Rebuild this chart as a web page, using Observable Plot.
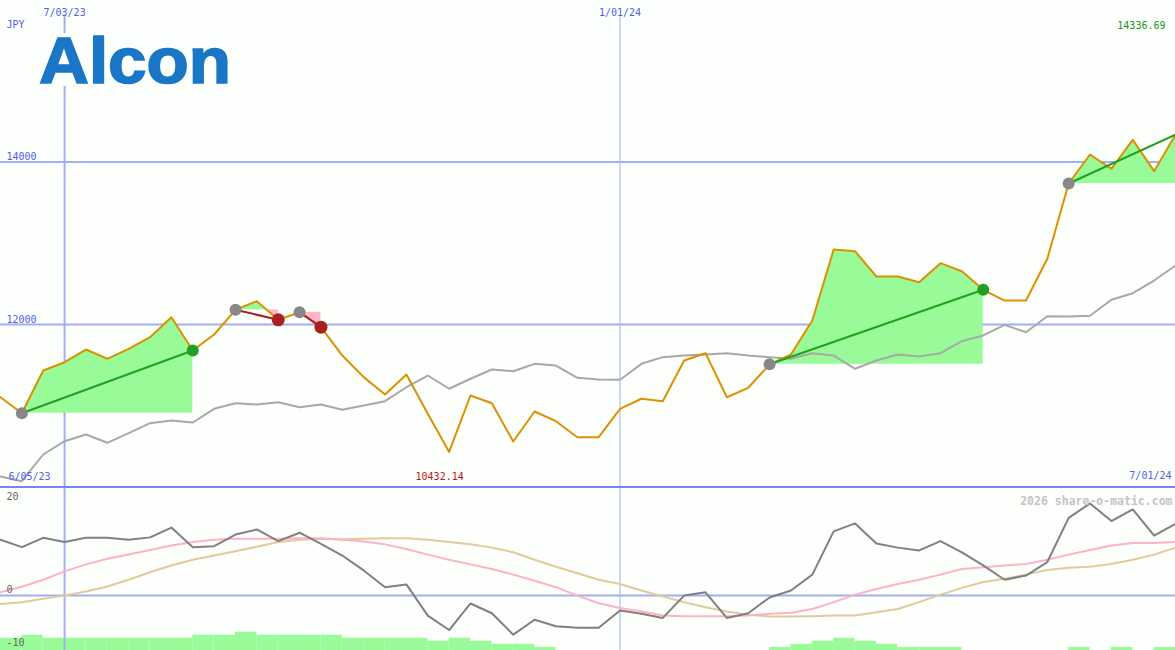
<!DOCTYPE html>
<html><head><meta charset="utf-8">
<script src="https://cdn.jsdelivr.net/npm/d3@7"></script>
<script src="https://cdn.jsdelivr.net/npm/@observablehq/plot@0.6"></script>
<style>
html,body{margin:0;padding:0;background:#fcfffc;}
#wrap{position:relative;width:1175px;height:650px;overflow:hidden;background:#fcfffc;}
#top{position:absolute;left:0;top:0;width:1175px;height:488px;}
#bot{position:absolute;left:0;top:488px;width:1175px;height:162px;}
#top svg,#bot svg{position:absolute;left:0;top:0;display:block;}
#logo{position:absolute;left:0;top:33px;overflow:visible;}
</style></head><body>
<div id="wrap">
  <div id="top"></div>
  <div id="bot"></div>
  <svg id="logo" width="250" height="72"><rect x="30" y="0" width="212" height="53" fill="#fcfffc"></rect><text id="logoText" x="39" y="50" font-family="Liberation Sans, Arial, sans-serif" font-weight="bold" font-size="64" fill="#1a76c6" stroke="#1a76c6" stroke-width="1.6" textLength="192" lengthAdjust="spacingAndGlyphs"></text></svg>
</div>
<script>
// ---- data ----
const company = "Alcon";
const currency = "JPY";
const firstLabel = "6/05/23";
const lastLabel = "7/01/24";
const watermark = "2026 share-o-matic.com";
const startDate = Date.UTC(2023, 5, 12);
const dates = d3.range(56).map(i => new Date(startDate + i * 7 * 864e5));

const price = [11105, 10908, 11434, 11536, 11692, 11578, 11700, 11844, 12090, 11680,
  11877, 12181, 12287, 12058, 12151, 11967, 11618, 11352, 11138, 11385,
  10901, 10432.14, 11126, 11031, 10560, 10929, 10810, 10613, 10613, 10962,
  11086, 11056, 11557, 11647, 11105, 11221, 11510, 11631, 12049, 12923,
  12902, 12591, 12591, 12521, 12755, 12656, 12427, 12295, 12295, 12809,
  13735, 14092, 13916, 14273, 13887, 14336.69];

const average = [10129, 10071, 10400, 10564, 10646, 10544, 10662, 10785, 10818, 10794,
  10962, 11031, 11015, 11044, 10982, 11015, 10950, 11003, 11056, 11228,
  11372, 11209, 11332, 11446, 11425, 11516, 11495, 11344, 11323, 11320,
  11516, 11598, 11618, 11631, 11647, 11618, 11598, 11578, 11647, 11618,
  11455, 11557, 11631, 11606, 11647, 11795, 11865, 11996, 11905, 12102,
  12098, 12107, 12304, 12385, 12541, 12726];

const momentum = [12.0, 10.4, 12.4, 11.5, 12.4, 12.4, 12.0, 12.5, 14.6, 10.4,
  10.6, 13.1, 14.2, 11.7, 13.5, 11.1, 8.6, 5.4, 1.8, 2.4,
  -4.3, -7.4, -1.7, -3.8, -8.4, -5.2, -6.6, -6.9, -6.9, -3.2,
  -3.9, -4.8, 0.0, 0.7, -4.8, -3.8, -0.4, 1.1, 4.5, 13.8,
  15.5, 11.2, 10.3, 9.7, 11.7, 9.3, 6.5, 3.4, 4.3, 7.2,
  16.7, 19.8, 16.0, 18.5, 12.9, 15.4];

const signalLine = [0.7, 1.9, 3.4, 5.2, 6.7, 7.9, 8.8, 9.8, 10.75, 11.5,
  12.0, 12.2, 12.2, 12.2, 12.3, 12.3, 12.0, 11.6, 11.0, 10.0,
  8.8, 7.7, 6.7, 5.7, 4.5, 3.2, 1.8, 0.0, -1.65, -2.65,
  -3.4, -4.3, -4.45, -4.45, -4.45, -4.3, -3.9, -3.7, -2.9, -1.4,
  0.2, 1.4, 2.5, 3.4, 4.5, 5.7, 6.1, 6.45, 6.8, 7.7,
  8.8, 9.8, 10.75, 11.3, 11.3, 11.5];

const slowLine = [-1.8, -1.44, -0.7, 0.0, 0.86, 1.94, 3.4, 5.0, 6.45, 7.7,
  8.6, 9.5, 10.5, 11.5, 12.0, 12.2, 12.1, 12.2, 12.3, 12.3,
  12.0, 11.5, 11.0, 10.3, 9.3, 7.7, 6.2, 4.8, 3.4, 2.5,
  1.1, -0.2, -1.44, -2.5, -3.4, -4.1, -4.5, -4.5, -4.45, -4.3,
  -4.3, -3.6, -2.9, -1.4, 0.2, 1.65, 2.9, 3.6, 4.5, 5.5,
  6.0, 6.2, 6.8, 7.7, 8.8, 10.3];

const volumeLevel = [4, 5, 4, 4, 4, 4, 4, 4, 4, 5,
  5, 6, 5, 5, 5, 5, 4, 4, 4, 4,
  3, 4, 3, 2, 2, 1, 0, 0, 0, 0,
  0, 0, 0, 0, 0, 0, 1, 2, 3, 4,
  3, 2, 1, 1, 1, 0, 0, 0, 0, 0,
  1, 0, 1, 0, 1, 0];

const priceTicks = [12000, 14000];
const oscTicks = [20, 0, -10];
const dateTickDates = [Date.UTC(2023, 6, 3), Date.UTC(2024, 0, 1)];
const dateTickLabels = ["7/03/23", "1/01/24"];
const dateTickWidths = [2, 1];

const sigStart = [1, 11, 14, 36, 50];
const sigEnd = [9, 13, 15, 46, 55];
const sigUp = [true, false, false, true, true];
const sigClosed = [true, true, true, true, false];

// ---- colours ----
const C = {
  grid: "#a3aef4", divider: "#7886ee", label: "#5060e8",
  price: "#dd9000", avg: "#a8a8a8", fillUp: "#98fb98", fillDown: "#ffb6c8",
  up: "#22a022", down: "#a82020", mark: "#888888",
  mom: "#808080", sig: "#ffb2c6", slow: "#e2ca9a", tick: "#666666", wm: "#c4c4c4"
};

// ---- derived tables ----
const rows = dates.map((d, i) => ({date: d, price: price[i], avg: average[i], mom: momentum[i], sig: signalLine[i], slow: slowLine[i], vol: volumeLevel[i], next: new Date(+d + 7 * 864e5)}));
const dateTicks = dateTickDates.map((t, i) => ({date: new Date(t), label: dateTickLabels[i], w: dateTickWidths[i]}));

const fills = [];
sigStart.forEach((s, k) => {
  const e = sigEnd[k], b = price[s];
  for (let i = s; i <= e; i++) {
    if (i > s) {
      const p0 = price[i - 1], p1 = price[i];
      if ((p0 - b) * (p1 - b) < 0) {
        const t = (b - p0) / (p1 - p0);
        fills.push({k, b, date: new Date(+dates[i - 1] + t * (dates[i] - dates[i - 1])), v: b});
      }
    }
    fills.push({k, b, date: dates[i], v: price[i]});
  }
});
const trend = sigStart.flatMap((s, k) => [
  {k, up: sigUp[k], date: dates[s], v: price[s]},
  {k, up: sigUp[k], date: dates[sigEnd[k]], v: price[sigEnd[k]]}
]);
const startMarks = sigStart.map(s => ({date: dates[s], v: price[s]}));
const endMarks = sigEnd.map((e, k) => ({date: dates[e], v: price[e], up: sigUp[k], closed: sigClosed[k]})).filter(d => d.closed);

const minIdx = d3.minIndex(price), maxIdx = d3.maxIndex(price);

const xOpt = {type: "utc", domain: [dates[0], dates[dates.length - 1]], range: [0, 1175], axis: null};
const font = {fontFamily: "DejaVu Sans Mono, monospace", fontSize: 10};
const oscMin = -11.8;

const pricePlot = Plot.plot({
  width: 1175, height: 488, margin: 0,
  style: {background: "transparent", fontFamily: "DejaVu Sans Mono, monospace", fontSize: "10px"},
  x: xOpt,
  y: {domain: [10000, 16000], range: [486.5, -1], axis: null},
  marks: [
    Plot.ruleY(priceTicks, {stroke: C.grid, strokeWidth: 2}),
    Plot.ruleX(dateTicks.filter(d => d.w === 2), {x: "date", stroke: C.grid, strokeWidth: 2, insetTop: 16}),
    Plot.ruleX(dateTicks.filter(d => d.w === 1), {x: "date", stroke: C.grid, strokeWidth: 1, insetTop: 16}),
    Plot.areaY(fills, {x: "date", y1: "b", y2: d => Math.max(d.v, d.b), z: "k", fill: C.fillUp}),
    Plot.areaY(fills, {x: "date", y1: "b", y2: d => Math.min(d.v, d.b), z: "k", fill: C.fillDown}),
    Plot.line(rows, {x: "date", y: "avg", stroke: C.avg, strokeWidth: 2}),
    Plot.line(rows, {x: "date", y: "price", stroke: C.price, strokeWidth: 2}),
    Plot.line(trend.filter(d => d.up), {x: "date", y: "v", z: "k", stroke: C.up, strokeWidth: 2}),
    Plot.line(trend.filter(d => !d.up), {x: "date", y: "v", z: "k", stroke: C.down, strokeWidth: 2}),
    Plot.dot(startMarks, {x: "date", y: "v", r: 6, fill: C.mark}),
    Plot.dot(endMarks.filter(d => d.up), {x: "date", y: "v", r: 6, fill: C.up}),
    Plot.dot(endMarks.filter(d => !d.up), {x: "date", y: "v", r: 6.5, fill: C.down}),
    Plot.ruleY([10000], {stroke: C.divider, strokeWidth: 2}),
    Plot.text(dateTicks, {x: "date", text: "label", frameAnchor: "top", dy: 8, fill: C.label, ...font}),
    Plot.text([currency], {text: d => d, frameAnchor: "top-left", textAnchor: "start", dx: 6, dy: 20, fill: C.label, ...font}),
    Plot.text(priceTicks, {y: d => d, text: d => String(d), frameAnchor: "left", textAnchor: "start", dx: 6, dy: -5, fill: C.label, ...font}),
    Plot.text([firstLabel], {text: d => d, frameAnchor: "bottom-left", textAnchor: "start", dx: 8, dy: -8.5, fill: C.label, ...font}),
    Plot.text([lastLabel], {text: d => d, frameAnchor: "bottom-right", textAnchor: "end", dx: -4, dy: -10, fill: C.label, ...font}),
    Plot.text([{date: dates[minIdx], v: price[minIdx]}], {x: "date", text: d => d.v.toFixed(2), frameAnchor: "bottom", dx: -9.5, dy: -9, fill: "#b21a1a", ...font}),
    Plot.text([price[maxIdx]], {text: d => d.toFixed(2), frameAnchor: "top-right", textAnchor: "end", dx: -10, dy: 21, fill: "#1a961a", ...font})
  ]
});
document.getElementById("top").appendChild(pricePlot);

const barPlot = Plot.plot({
  width: 1175, height: 162, margin: 0,
  style: {background: "transparent"},
  x: xOpt,
  y: {domain: [0, 53], range: [162, 0], axis: null},
  marks: [
    Plot.rectY(rows.filter(d => d.vol > 0), {x1: "date", x2: "next", y: "vol", fill: C.fillUp})
  ]
});
document.getElementById("bot").appendChild(barPlot);

const oscPlot = Plot.plot({
  width: 1175, height: 162, margin: 0,
  style: {background: "transparent", fontFamily: "DejaVu Sans Mono, monospace", fontSize: "10px"},
  x: xOpt,
  y: {domain: [oscMin, 23], range: [162, 0], axis: null},
  marks: [
    Plot.ruleY([0], {stroke: C.grid, strokeWidth: 2}),
    Plot.ruleX(dateTicks.filter(d => d.w === 2), {x: "date", stroke: C.grid, strokeWidth: 2}),
    Plot.ruleX(dateTicks.filter(d => d.w === 1), {x: "date", stroke: C.grid, strokeWidth: 1}),
    Plot.line(rows, {x: "date", y: "slow", stroke: C.slow, strokeWidth: 2}),
    Plot.line(rows, {x: "date", y: "sig", stroke: C.sig, strokeWidth: 2}),
    Plot.line(rows, {x: "date", y: "mom", stroke: C.mom, strokeWidth: 2}),
    Plot.text(oscTicks.filter(d => d >= 0), {y: d => d, text: d => String(d), frameAnchor: "left", textAnchor: "start", dx: 6, dy: -6, fill: C.tick, ...font}),
    Plot.text(oscTicks.filter(d => d < 0), {y: d => d, text: d => String(d), frameAnchor: "left", textAnchor: "start", dx: 6, dy: 0.5, fill: C.tick, ...font}),
    Plot.text([watermark], {text: d => d, frameAnchor: "top-right", textAnchor: "end", dx: -3, dy: 8, fill: C.wm, fontWeight: "bold", fontFamily: "DejaVu Sans Mono, monospace", fontSize: 11.5})
  ]
});
document.getElementById("bot").appendChild(oscPlot);

document.getElementById("logoText").textContent = company;
</script>
</body></html>
